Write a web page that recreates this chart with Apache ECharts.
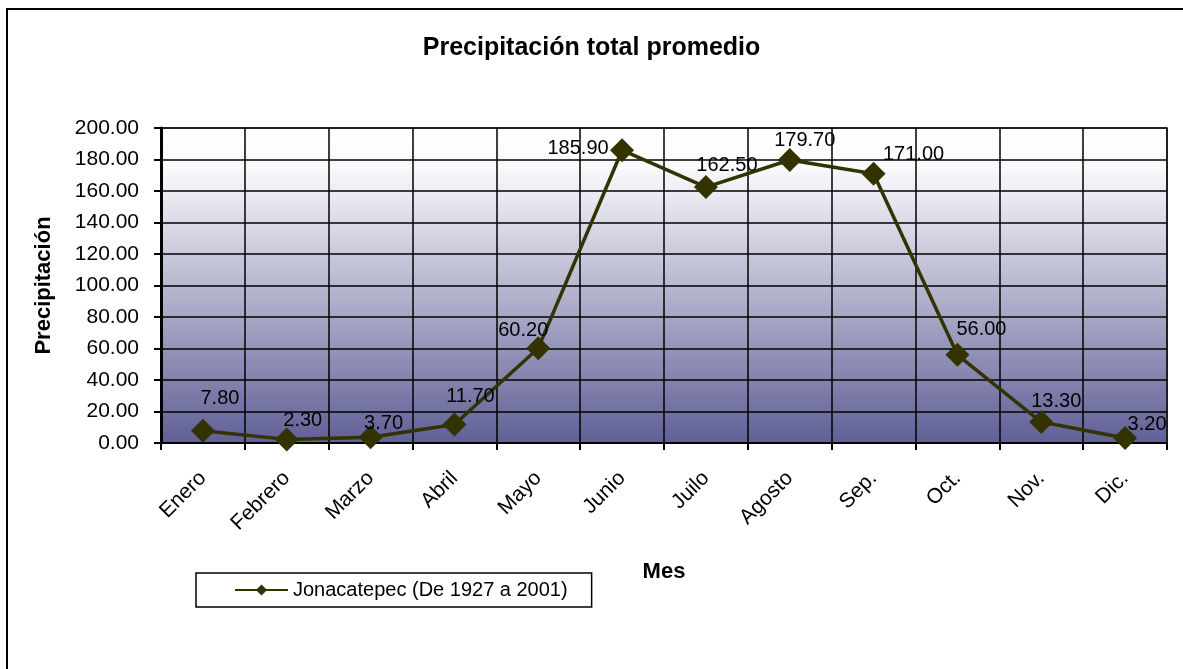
<!DOCTYPE html>
<html>
<head>
<meta charset="utf-8">
<script src="https://cdn.jsdelivr.net/npm/echarts@6/dist/echarts.min.js"></script>
<style>
    html, body { margin: 0; padding: 0; background: #fff; }
    #chart { width: 1183px; height: 669px; }
</style>
</head>
<body>
<div id="chart"></div>
<script>
/* datos: precipitación total promedio */
var meses = ['Enero', 'Febrero', 'Marzo', 'Abril', 'Mayo', 'Junio', 'Juilo', 'Agosto', 'Sep.', 'Oct.', 'Nov.', 'Dic.'];
var precipitacion = [7.8, 2.3, 3.7, 11.7, 60.2, 185.9, 162.5, 179.7, 171.0, 56.0, 13.3, 3.2];
var serieNombre = 'Jonacatepec (De 1927 a 2001)';
// desplazamiento de cada etiqueta respecto al punto (como en el original)
var labelOffsets = [[17, -32], [16, -19], [13, -14], [16, -28], [-15, -18], [-44, -2],
    [21, -22], [15, -19], [40, -19], [24, -25], [15, -21], [22, -13]];

var fontFamily = 'Liberation Sans, Arial, sans-serif';
var lineColor = '#333300';

var dom = document.getElementById('chart');
var myChart = echarts.init(dom);

var seriesData = [];
for (var i = 0; i < precipitacion.length; i++) {
    seriesData.push({
        value: precipitacion[i],
        label: { offset: labelOffsets[i] }
    });
}

var option = {
    backgroundColor: '#fff',
    animation: false,
    textStyle: { fontFamily: fontFamily },
    graphic: [{
        type: 'rect',
        shape: { x: 7, y: 9, width: 1200, height: 700 },
        style: { fill: 'none', stroke: '#000', lineWidth: 2 },
        z: -1
    }],
    title: {
        text: 'Precipitación total promedio',
        left: 'center',
        top: 31,
        textStyle: { fontSize: 25, fontWeight: 'bold', color: '#000', fontFamily: fontFamily }
    },
    legend: {
        left: 196,
        top: 573,
        padding: [7, 24, 7, 38],
        borderColor: '#000',
        borderWidth: 1.5,
        borderRadius: 0,
        itemWidth: 53,
        itemHeight: 14,
        itemGap: 8,
        textStyle: { fontSize: 20, color: '#000', fontFamily: fontFamily },
        data: [serieNombre]
    },
    grid: {
        left: 161,
        right: 16,
        top: 128,
        bottom: 226,
        show: true,
        borderColor: '#808080',
        borderWidth: 2,
        backgroundColor: {
            type: 'linear', x: 0, y: 0, x2: 0, y2: 1,
            colorStops: [
                { offset: 0, color: '#ffffff' },
                { offset: 0.12, color: '#fbfbfd' },
                { offset: 1, color: '#5f5f96' }
            ]
        }
    },
    xAxis: {
        type: 'category',
        data: meses,
        boundaryGap: true,
        name: 'Mes',
        nameLocation: 'middle',
        nameGap: 118,
        nameTextStyle: { fontSize: 22, fontWeight: 'bold', color: '#000' },
        axisLine: { lineStyle: { color: '#000', width: 2 } },
        axisTick: { show: true, length: 7, lineStyle: { color: '#000', width: 2 } },
        axisLabel: { rotate: 45, margin: 32, fontSize: 21, color: '#000' },
        splitLine: { show: true, lineStyle: { color: '#000', width: 1.5 } }
    },
    yAxis: {
        type: 'value',
        min: 0,
        max: 200,
        interval: 20,
        name: 'Precipitación',
        nameLocation: 'middle',
        nameGap: 106,
        nameTextStyle: { fontSize: 22, fontWeight: 'bold', color: '#000' },
        axisLine: { show: true, lineStyle: { color: '#000', width: 3 } },
        axisTick: { show: true, length: 7, lineStyle: { color: '#000', width: 2 } },
        axisLabel: {
            margin: 22,
            fontSize: 21,
            color: '#000',
            formatter: function (v) { return v.toFixed(2); }
        },
        splitLine: { show: true, lineStyle: { color: '#000', width: 1.5 } }
    },
    series: [{
        name: serieNombre,
        type: 'line',
        data: seriesData,
        symbol: 'diamond',
        symbolSize: 24,
        itemStyle: { color: lineColor },
        lineStyle: { color: lineColor, width: 3.5 },
        label: {
            show: true,
            position: 'inside',
            fontSize: 20,
            color: '#000',
            formatter: function (p) { return p.value.toFixed(2); }
        }
    }]
};

myChart.setOption(option);
</script>
</body>
</html>
